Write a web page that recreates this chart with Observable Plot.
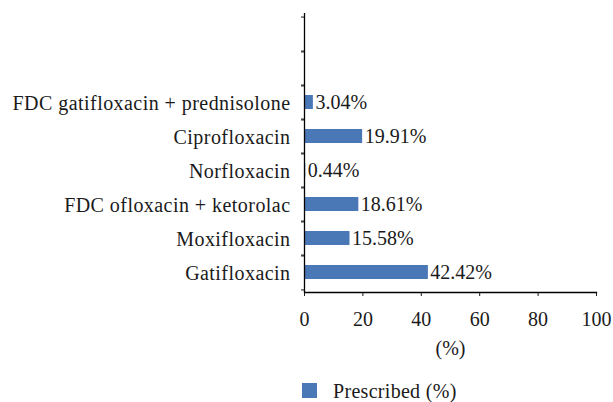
<!DOCTYPE html>
<html>
<head>
<meta charset="utf-8">
<script src="https://cdn.jsdelivr.net/npm/d3@7"></script>
<script src="https://cdn.jsdelivr.net/npm/@observablehq/plot@0.6"></script>
<style>
  body { margin: 0; background: #fff; font-family: "Liberation Serif", "Times New Roman", serif; }
  #wrap { width: 613px; }
  .legend { position: relative; height: 30px; width: 613px; font-size: 20px; color: #1a1a1a; }
  .legend .sw { position: absolute; left: 302px; top: 11px; width: 15px; height: 15px; background: #4a77b5; }
  .legend .lb { position: absolute; left: 333px; top: 7px; line-height: 24px; letter-spacing: 0.3px; }
  g[aria-label="y-axis tick label"] text { letter-spacing: 0.45px; }
</style>
</head>
<body>
<div id="wrap"></div>
<script>
const categories = ["", " ", "FDC gatifloxacin + prednisolone", "Ciprofloxacin", "Norfloxacin", "FDC ofloxacin + ketorolac", "Moxifloxacin", "Gatifloxacin"];
const drugs = ["FDC gatifloxacin + prednisolone", "Ciprofloxacin", "Norfloxacin", "FDC ofloxacin + ketorolac", "Moxifloxacin", "Gatifloxacin"];
const prescribed = [3.04, 19.91, 0.44, 18.61, 15.58, 42.42];
const xTicks = [0, 20, 40, 60, 80, 100];
const seriesName = "Prescribed (%)";
const xLabel = "(%)";

const data = drugs.map((d, i) => ({drug: d, value: prescribed[i]}));

const W = 613, H = 372, mt = 13, mb = 80, ml = 304, mr = 17;
const step = (H - mt - mb) / categories.length;
const color = "#4a77b5";

const chart = Plot.plot({
  width: W, height: H,
  marginTop: mt, marginBottom: mb, marginLeft: ml, marginRight: mr,
  style: {fontFamily: "'Liberation Serif', 'Times New Roman', serif", fontSize: "20px", color: "#1a1a1a", background: "#fff"},
  x: {domain: [0, 100], ticks: xTicks},
  y: {domain: categories, padding: 0},
  marks: [
    Plot.barX(data, {x: "value", y: "drug", fill: color, insetTop: 10, insetBottom: 10}),
    Plot.text(data, {x: "value", y: "drug", text: d => d.value.toFixed(2) + "%", textAnchor: "start", dx: 2, fontSize: 20, fill: "#1a1a1a"}),
    Plot.axisY({tickSize: 0, tickPadding: 14, label: null, fontSize: 20, dy: 1}),
    Plot.axisY({tickSize: 3, text: null, label: null, dy: -step / 2}),
    Plot.axisY({tickSize: 3, text: null, label: null, dy: step / 2}),
    Plot.axisX({ticks: xTicks, tickSize: 4, tickPadding: 15, label: xLabel, labelAnchor: "center", labelArrow: "none", labelOffset: 62, fontSize: 20}),
    Plot.ruleX([0], {stroke: "#000", strokeWidth: 1.3}),
    Plot.frame({anchor: "bottom", stroke: "#000", strokeWidth: 1.3})
  ]
});
document.getElementById("wrap").appendChild(chart);

const leg = document.createElement("div");
leg.className = "legend";
leg.innerHTML = '<div class="sw"></div><div class="lb"></div>';
leg.querySelector(".lb").textContent = seriesName;
document.getElementById("wrap").appendChild(leg);
</script>
</body>
</html>
